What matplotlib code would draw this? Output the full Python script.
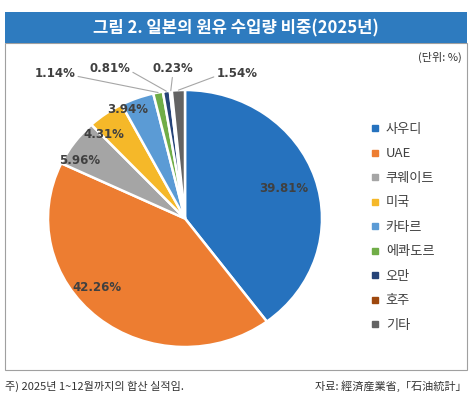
import matplotlib
matplotlib.use("Agg")
import matplotlib.pyplot as plt
from matplotlib.patches import Rectangle
from matplotlib.lines import Line2D
import numpy as np

plt.rcParams['font.family'] = ['Noto Sans CJK KR', 'DejaVu Sans']

# data
countries = ['사우디', 'UAE', '쿠웨이트', '미국', '카타르', '에콰도르', '오만', '호주', '기타']
shares = [39.81, 42.26, 5.96, 4.31, 3.94, 1.14, 0.81, 0.23, 1.54]
colors = ['#2672BE', '#ED7D31', '#A5A5A5', '#F5B829', '#5B9BD5',
          '#70AD47', '#264478', '#9E480E', '#636363']

# label text positions (pie data units)
label_pos = [(0.72, 0.23), (-0.64, -0.54), (-0.77, 0.45), (-0.59, 0.65),
             (-0.42, 0.85), (-0.95, 1.13), (-0.55, 1.17), (-0.09, 1.17), (0.38, 1.13)]
outside = [False, False, False, False, False, True, True, True, True]

W, H = 476, 401
fig = plt.figure(figsize=(W / 100, H / 100), dpi=100)

def fx(px):
    return px / W

def fy(py):
    return 1 - py / H

# frame + title banner
fig.patches.append(Rectangle((fx(5), fy(370)), fx(462), 327 / H, transform=fig.transFigure,
                             facecolor='white', edgecolor='#A0A0A0', lw=0.8, zorder=-2))
fig.patches.append(Rectangle((fx(5), fy(43)), fx(462), 31 / H, transform=fig.transFigure,
                             facecolor='#2E7BBF', edgecolor='none', zorder=-1))
fig.text(fx(236), fy(28), '그림 2. 일본의 원유 수입량 비중(2025년)', color='white',
         fontsize=12, fontweight='bold', ha='center', va='center')
fig.text(fx(462), fy(57), '(단위: %)', fontsize=8, color='#333333', ha='right', va='center')
fig.text(fx(5), fy(386), '주) 2025년 1~12월까지의 합산 실적임.', fontsize=8, color='#333333',
         ha='left', va='center')
fig.text(fx(467), fy(386), '자료: 經済産業省,「石油統計」', fontsize=8, color='#333333',
         ha='right', va='center')

# pie (slightly wider than tall, as in the source image)
cx, cy, rx, ry = 185, 218.5, 137, 128.5
ax = fig.add_axes([fx(cx - rx), fy(cy + ry), 2 * rx / W, 2 * ry / H])
wedges, _ = ax.pie(shares, colors=colors, startangle=90, counterclock=False,
                   wedgeprops=dict(edgecolor='white', linewidth=1.8))
ax.set_xlim(-1, 1)
ax.set_ylim(-1, 1)
ax.set_aspect('auto')
ax.axis('off')

for w, v, (tx, ty), out in zip(wedges, shares, label_pos, outside):
    txt = f'{v:.2f}%'
    if out:
        ang = np.deg2rad((w.theta1 + w.theta2) / 2)
        ex, ey = np.cos(ang), np.sin(ang)
        rel = (0.5, 0.0) if abs(tx) < 0.2 else ((1.0, 0.3) if tx < 0 else (0.0, 0.3))
        ax.annotate(txt, xy=(ex, ey), xytext=(tx, ty), ha='center', va='center',
                    fontsize=8.5, fontweight='bold', color='#404040',
                    fontfamily=['DejaVu Sans'], annotation_clip=False,
                    arrowprops=dict(arrowstyle='-', color='#A6A6A6', lw=0.8,
                                    shrinkA=0, shrinkB=0, relpos=rel))
    else:
        ax.text(tx, ty, txt, ha='center', va='center', fontsize=8.5, fontweight='bold',
                color='#404040', fontfamily=['DejaVu Sans'])

# legend
handles = [Line2D([], [], marker='s', linestyle='none', markersize=4.5,
                  markerfacecolor=c, markeredgecolor=c) for c in colors]
fig.legend(handles, countries, loc='upper left', bbox_to_anchor=(fx(364), fy(116)),
           frameon=False, fontsize=9.5, labelcolor='#404040', handlelength=0.6,
           handletextpad=0.55, labelspacing=0.875, borderpad=0)

fig.savefig('out.png', dpi=100)
